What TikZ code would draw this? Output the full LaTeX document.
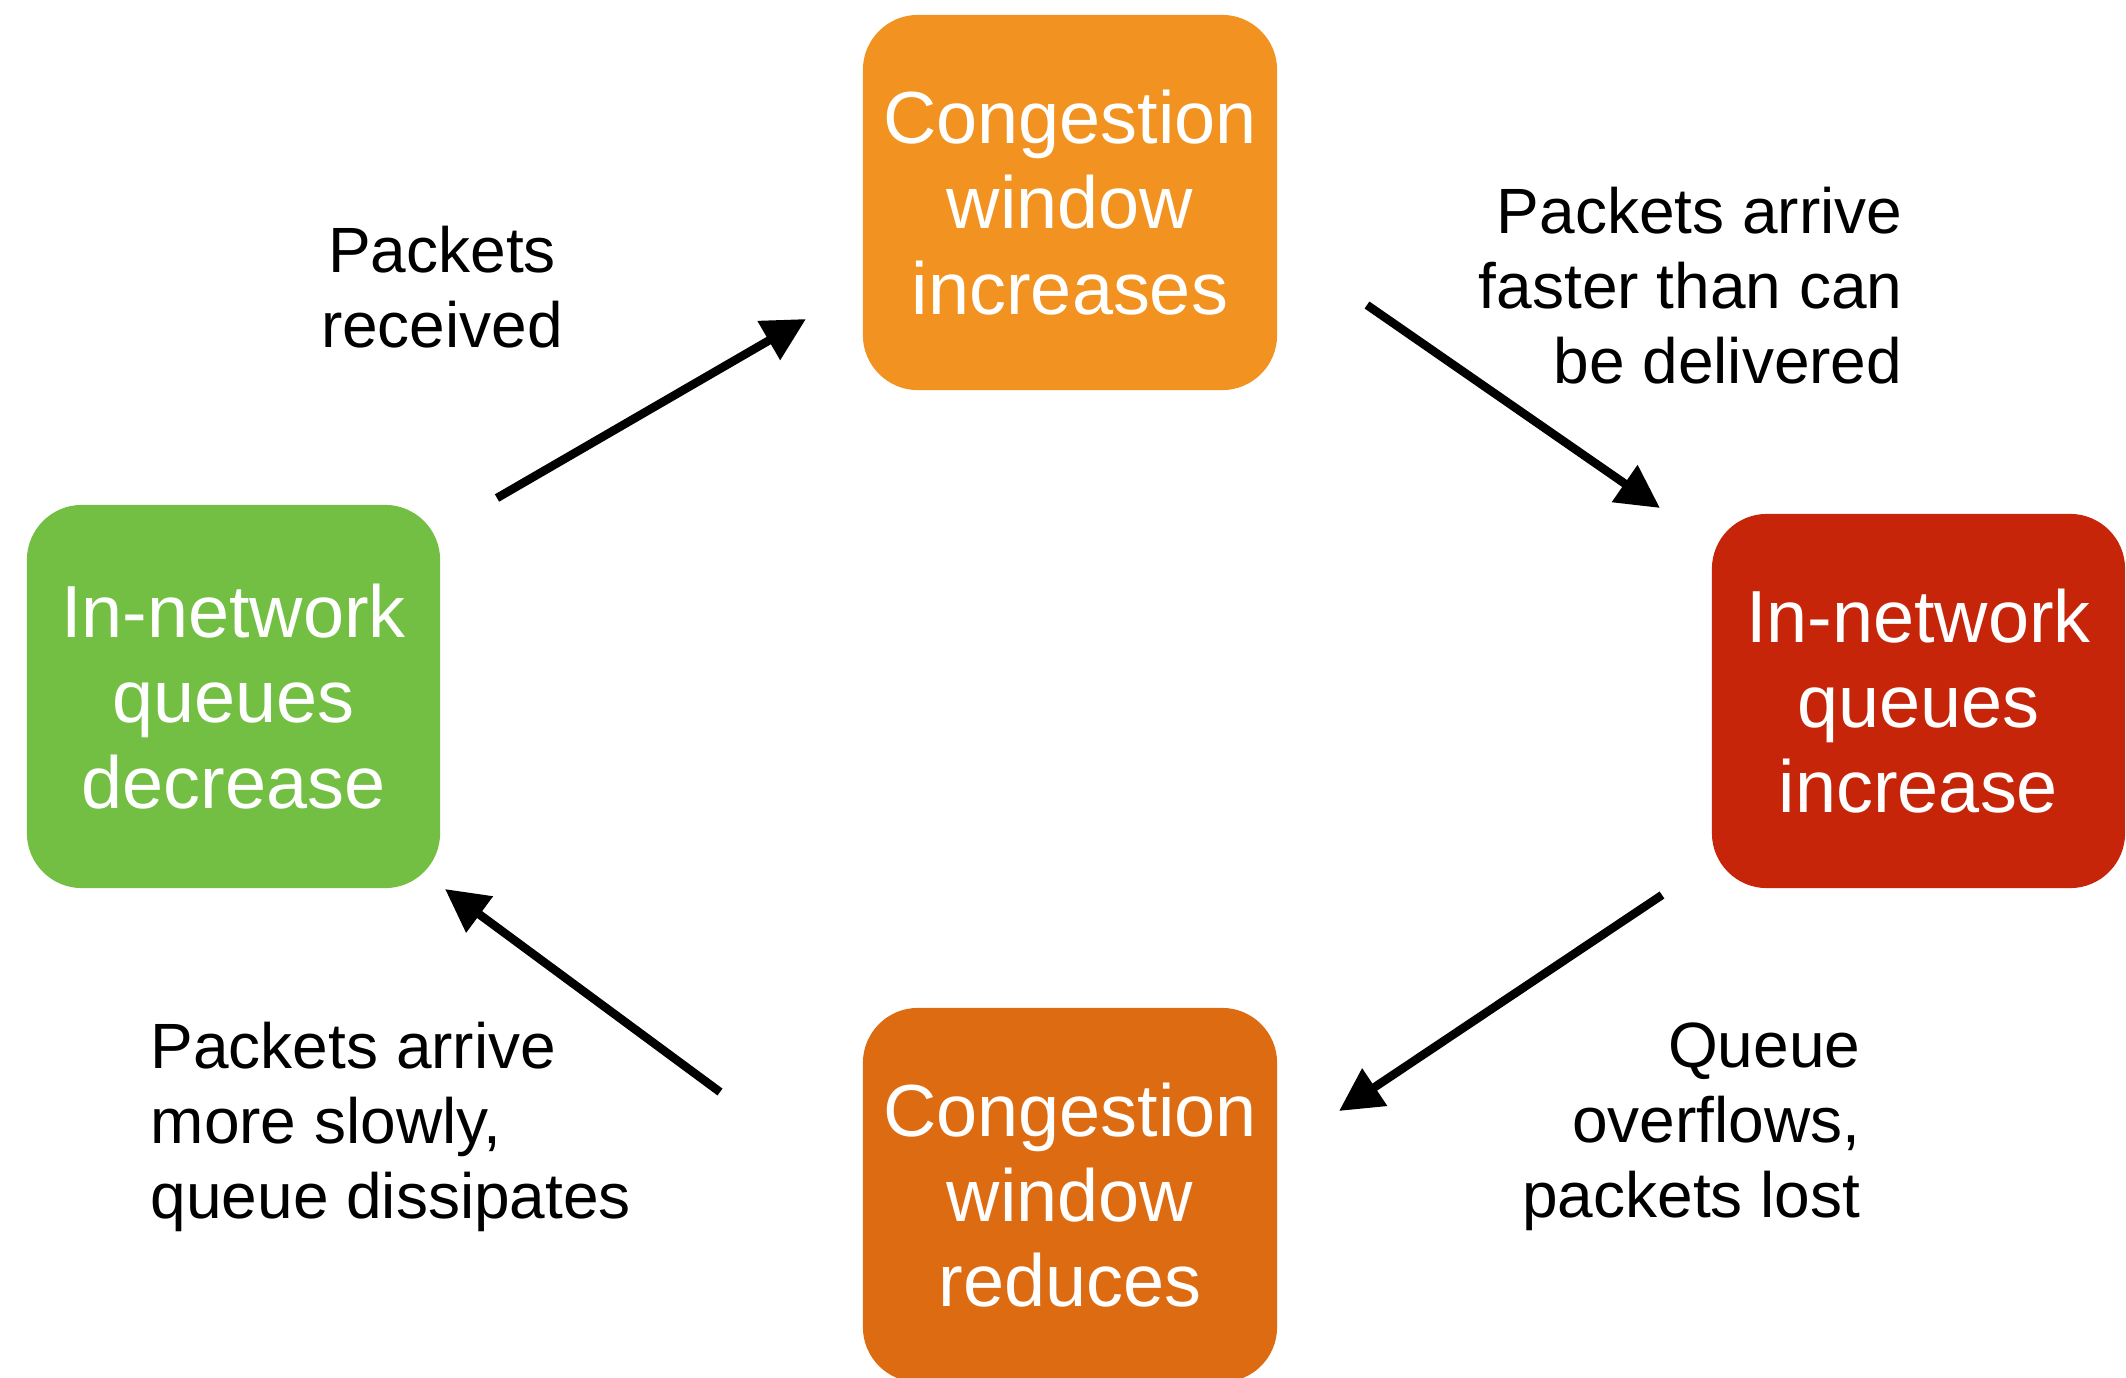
\documentclass[tikz,border=0pt]{standalone}
\usepackage{fontspec}
\setmainfont{Liberation Sans}
\usetikzlibrary{arrows.meta}

\definecolor{cwup}{RGB}{242,146,32}
\definecolor{cwdown}{RGB}{221,107,18}
\definecolor{qupcol}{RGB}{198,37,10}
\definecolor{qdowncol}{RGB}{114,191,68}

\begin{document}
\begin{tikzpicture}[x=0.01cm, y=-0.01cm,
  state/.style={rounded corners=0.55cm, draw=none, minimum width=4.14cm,
    minimum height=3.75cm, inner sep=0pt, align=center, text=white,
    font=\fontsize{21}{24.2}\selectfont},
  note/.style={inner sep=0pt, text=black, font=\fontsize{18.2}{21.3}\selectfont},
  flow/.style={line width=0.085cm, draw=black,
    -{Triangle[length=0.43cm, width=0.43cm]}}]

  \useasboundingbox (0,0) rectangle (2126,1378);

  % the four states of the cycle
  \node[state, fill=cwup] (cwinc) at (1070,202.5) {Congestion\\window\\increases};
  \node[state, fill=qupcol, minimum width=4.13cm, minimum height=3.74cm] (qinc) at (1918.5,701) {In-network\\queues\\increase};
  \node[state, fill=cwdown, minimum height=3.74cm] (cwred) at (1070,1195) {Congestion\\window\\reduces};
  \node[state, fill=qdowncol, minimum width=4.13cm, minimum height=3.83cm] (qdec) at (233.5,696.5) {In-network\\queues\\decrease};

  % arrow end points between the states
  \coordinate (a1s) at (497,498);   \coordinate (a1e) at (806,319);
  \coordinate (a2s) at (1367,305);  \coordinate (a2e) at (1660,508);
  \coordinate (a3s) at (1662,895);  \coordinate (a3e) at (1339,1111);
  \coordinate (a4s) at (720,1092);  \coordinate (a4e) at (445,889);

  \draw[flow] (a1s) -- (a1e);
  \draw[flow] (a2s) -- (a2e);
  \draw[flow] (a3s) -- (a3e);
  \draw[flow] (a4s) -- (a4e);

  % transition labels
  \node[note, align=center] (lrecv) at (442,287.5) {Packets\\received};
  \node[note, align=right, anchor=east] (lfast) at (1903,286) {Packets arrive\\faster than can\\be delivered};
  \node[note, align=right, anchor=east] (llost) at (1861,1127) {Queue\\overflows,\\packets lost};
  \node[note, align=left, anchor=west] (lslow) at (150,1127) {Packets arrive\\more slowly,\\queue dissipates};
\end{tikzpicture}
\end{document}
